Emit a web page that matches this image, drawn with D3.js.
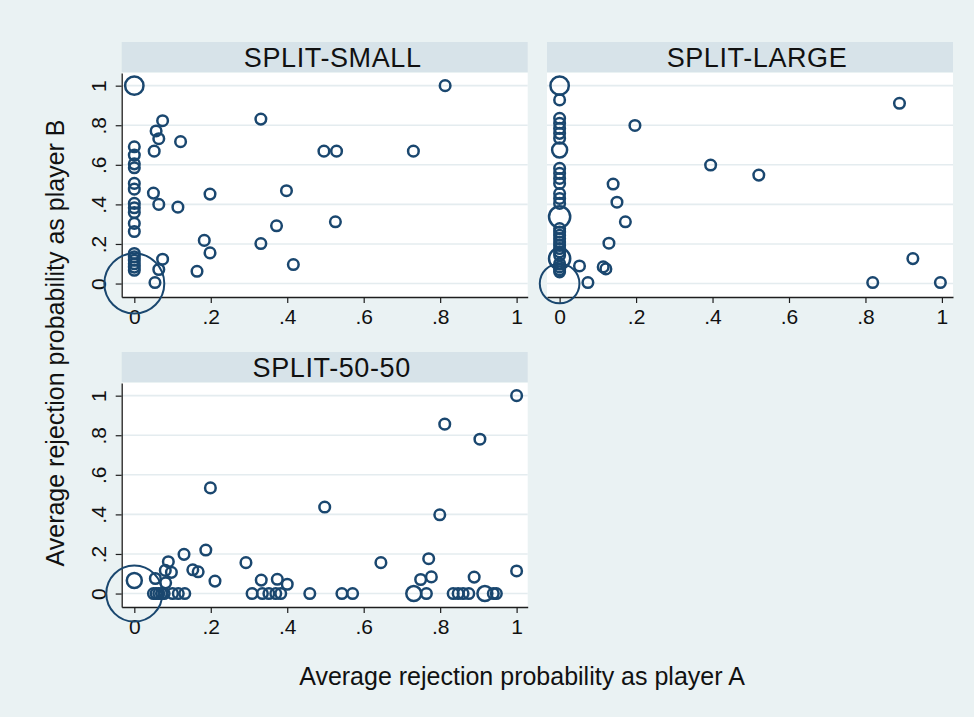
<!DOCTYPE html>
<html><head><meta charset="utf-8">
<script src="https://cdn.jsdelivr.net/npm/d3@7"></script>
<style>body{margin:0;background:#fff} svg{display:block}</style>
</head><body><svg id="c" width="974" height="717"></svg>
<script>
// ---- data ----
const panelTitles = ["SPLIT-SMALL", "SPLIT-LARGE", "SPLIT-50-50"];
const tickValues = [0, 0.2, 0.4, 0.6, 0.8, 1];
const tickLabels = ["0", ".2", ".4", ".6", ".8", "1"];
const xTitle = "Average rejection probability as player A";
const yTitle = "Average rejection probability as player B";

// SPLIT-SMALL
const smallX = [0, 0.813, 0.331, 0.074, 0.057, 0.064, 0.121, 0.052, 0.496, 0.529, 0.730, 0.050, 0.198, 0.398, 0.064, 0.114, 0.526, 0.372, 0.183, 0.331, 0.198, 0.416, 0.074, 0.064, 0.164, 0.054,
  0, 0, 0, 0, 0, 0, 0, 0, 0, 0, 0, 0, 0, 0, 0, 0, 0, 0];
const smallY = [1, 1, 0.831, 0.823, 0.771, 0.732, 0.717, 0.669, 0.669, 0.669, 0.669, 0.457, 0.452, 0.469, 0.400, 0.386, 0.312, 0.292, 0.218, 0.202, 0.155, 0.096, 0.123, 0.071, 0.062, 0.005,
  0.691, 0.649, 0.605, 0.585, 0.506, 0.477, 0.405, 0.383, 0.359, 0.304, 0.263, 0.152, 0.135, 0.118, 0.100, 0.083, 0.067, 0];
const smallW = [3, 1, 1, 1, 1, 1, 1, 1, 1, 1, 1, 1, 1, 1, 1, 1, 1, 1, 1, 1, 1, 1, 1, 1, 1, 1,
  1, 1, 1, 1, 1, 1, 1, 1, 1, 1, 1, 1, 1, 1, 1, 1, 1, 32];

// SPLIT-LARGE
const largeX = [0.889, 0.197, 0.395, 0.521, 0.140, 0.150, 0.172, 0.129, 0.052, 0.114, 0.121, 0.074, 0.819, 0.924, 0.996,
  0, 0, 0, 0, 0, 0, 0, 0, 0, 0, 0, 0, 0, 0, 0, 0, 0, 0, 0, 0, 0, 0, 0, 0, 0, 0, 0, 0, 0, 0, 0];
const largeY = [0.911, 0.799, 0.599, 0.548, 0.503, 0.411, 0.312, 0.204, 0.089, 0.084, 0.074, 0.005, 0.005, 0.126, 0.005,
  1.0, 0.928, 0.835, 0.810, 0.784, 0.759, 0.734, 0.675, 0.582, 0.557, 0.531, 0.506, 0.455, 0.430, 0.405, 0.337, 0.278, 0.260, 0.244, 0.227, 0.210, 0.193, 0.177, 0.160, 0.143, 0.126, 0.100, 0.084, 0.070, 0.059, 0];
const largeW = [1, 1, 1, 1, 1, 1, 1, 1, 1, 1, 1, 1, 1, 1, 1,
  3, 1, 1, 1, 1, 1, 1, 2, 1, 1, 1, 1, 1, 1, 1, 4, 1, 1, 1, 1, 1, 1, 1, 1, 1, 4, 1, 1, 1, 1, 14];

// SPLIT-50-50
const fiftyX = [1.0, 0.812, 0.904, 0.199, 0.498, 0.799, 0.187, 0.130, 0.089, 0.292, 0.645, 0.770, 0.153, 0.167, 0.081, 0.097, 0.211, 0.055, 0.082, 0, 0.332, 0.374, 0.400, 0.749, 0.777, 0.889, 1.0,
  0.050, 0.057, 0.064, 0.071, 0.078, 0.100, 0.115, 0.132, 0.308, 0.335, 0.352, 0.370, 0.383, 0.459, 0.543, 0.571, 0.731, 0.764, 0.834, 0.847, 0.860, 0.875, 0.917, 0.939, 0.947, 0];
const fiftyY = [1.0, 0.856, 0.780, 0.534, 0.437, 0.398, 0.220, 0.198, 0.161, 0.156, 0.156, 0.176, 0.120, 0.110, 0.117, 0.107, 0.063, 0.076, 0.054, 0.066, 0.068, 0.072, 0.047, 0.071, 0.084, 0.083, 0.114,
  0, 0, 0, 0, 0, 0, 0, 0, 0, 0, 0, 0, 0, 0, 0, 0, 0, 0, 0, 0, 0, 0, 0, 0, 0, 0];
const fiftyW = [1, 1, 1, 1, 1, 1, 1, 1, 1, 1, 1, 1, 1, 1, 1, 1, 1, 1, 1, 2, 1, 1, 1, 1, 1, 1, 1,
  1, 1, 1, 1, 1, 1, 1, 1, 1, 1, 1, 1, 1, 1, 1, 1, 2, 1, 1, 1, 1, 1, 2, 1, 1, 28];

// ---- drawing ----
const BG = "#eaf2f3", HEAD = "#d7e3e9", GRID = "#e4ecef", MARK = "#1a476f", AXIS = "#1e1e1e";
const FONT = "'Liberation Sans', Arial, Helvetica, sans-serif";
const svg = d3.select("#c");
svg.append("rect").attr("x", 0).attr("y", 0).attr("width", 974).attr("height", 717).attr("fill", BG);

const panels = [
  { title: panelTitles[0], xs: smallX, ys: smallY, ws: smallW, left: 121.7, top: 73, showY: true, titleDx: 8 },
  { title: panelTitles[1], xs: largeX, ys: largeY, ws: largeW, left: 547, top: 73, showY: false, titleDx: 7 },
  { title: panelTitles[2], xs: fiftyX, ys: fiftyY, ws: fiftyW, left: 121.7, top: 383, showY: true, titleDx: 7 }
];
const PW = 406, PH = 224, HH = 30;
const r0 = 5.3;

panels.forEach(p => {
  const g = svg.append("g").attr("transform", `translate(${p.left},${p.top})`);
  const x = d3.scaleLinear().domain([-0.033, 1.029]).range([0, PW]);
  const y = d3.scaleLinear().domain([-0.068, 1.064]).range([PH, 0]);
  // header strip
  g.append("rect").attr("x", 0).attr("y", -HH - 1).attr("width", PW).attr("height", HH).attr("fill", HEAD);
  g.append("text").attr("x", PW / 2 + p.titleDx).attr("y", -HH - 1 + 25)
    .attr("text-anchor", "middle").attr("font-family", FONT).attr("font-size", 27)
    .attr("letter-spacing", "0.6px").attr("fill", "#111").text(p.title);
  // plot area
  g.append("rect").attr("x", 0).attr("y", 0).attr("width", PW).attr("height", PH).attr("fill", "#fff");
  // grid
  g.selectAll("line.grid").data(tickValues).enter().append("line")
    .attr("x1", 0).attr("x2", PW).attr("y1", d => y(d)).attr("y2", d => y(d))
    .attr("stroke", GRID).attr("stroke-width", 1.6);
  // x axis
  const xa = g.append("g").attr("transform", `translate(0,${PH})`)
    .call(d3.axisBottom(x).tickValues(tickValues).tickFormat((d, i) => tickLabels[i]).tickSize(6).tickSizeOuter(0).tickPadding(6));
  xa.select(".domain").attr("stroke", AXIS).attr("stroke-width", 1.3);
  xa.selectAll(".tick line").attr("stroke", AXIS).attr("stroke-width", 1.2);
  xa.selectAll(".tick text").attr("font-family", FONT).attr("font-size", 21).attr("fill", "#111");
  if (p.showY) {
    const ya = g.append("g")
      .call(d3.axisLeft(y).tickValues(tickValues).tickFormat((d, i) => tickLabels[i]).tickSize(6).tickSizeOuter(0).tickPadding(6));
    ya.select(".domain").attr("stroke", AXIS).attr("stroke-width", 1.3);
    ya.selectAll(".tick line").attr("stroke", AXIS).attr("stroke-width", 1.2);
    ya.selectAll(".tick text").attr("font-family", FONT).attr("font-size", 21).attr("fill", "#111")
      .attr("text-anchor", "middle").attr("dy", null).attr("x", null)
      .attr("transform", "translate(-16,0) rotate(-90)");
  }
  // markers
  const pts = p.xs.map((v, i) => ({ x: v, y: p.ys[i], w: p.ws[i] }))
    .sort((a, b) => b.w - a.w);
  g.append("g").selectAll("circle").data(pts).enter().append("circle")
    .attr("cx", d => x(d.x)).attr("cy", d => y(d.y)).attr("r", d => r0 * Math.sqrt(d.w))
    .attr("fill", "none").attr("stroke", MARK).attr("stroke-width", d => d.w > 10 ? 2 : 2.5);
});

// axis titles
svg.append("text").attr("x", 522).attr("y", 685).attr("text-anchor", "middle")
  .attr("font-family", FONT).attr("font-size", 25).attr("fill", "#111").text(xTitle);
svg.append("text").attr("transform", "translate(64,343) rotate(-90)").attr("text-anchor", "middle")
  .attr("font-family", FONT).attr("font-size", 25).attr("fill", "#111").text(yTitle);
</script>
</body></html>
